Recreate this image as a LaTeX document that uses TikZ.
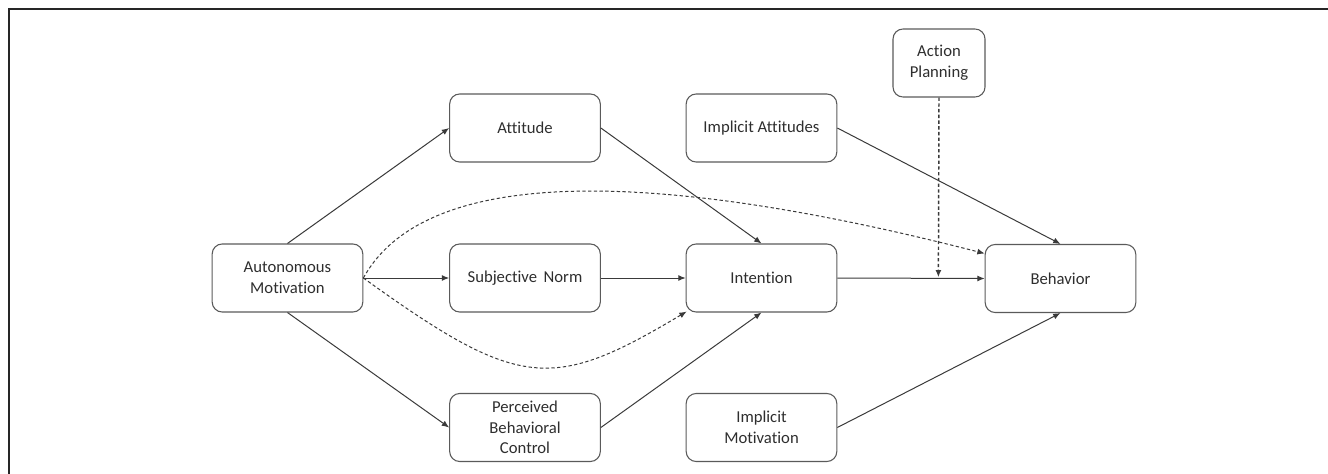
\documentclass[tikz,border=0pt]{standalone}
\usepackage{fontspec}
\setmainfont[Ligatures={NoCommon}]{Carlito}
\usetikzlibrary{arrows.meta,calc}
\definecolor{boxline}{HTML}{5A5A5A}
\definecolor{arrline}{HTML}{3A3A3A}
\definecolor{txt}{HTML}{2E2E2E}
\begin{document}
\begin{tikzpicture}[x=0.75pt,y=-0.75pt,
  box/.style={draw=boxline,line width=0.8pt,rounded corners=7.5pt,
    minimum width=113pt,minimum height=51pt,inner sep=0pt,align=center,
    text=txt,font=\fontsize{12.5}{15.5}\selectfont},
  smallbox/.style={box,minimum width=69pt},
  arr/.style={draw=arrline,line width=0.75pt,-{Latex[length=5.5pt,width=4.5pt]}},
  darr/.style={arr,dashed,dash pattern=on 2.5pt off 1.8pt}]
\useasboundingbox (0,0) rectangle (1328,474);
\draw[line width=1.2pt,color=black!85] (9,474) -- (9,9) -- (1328,9);

\node[box] (am) at (287.5,278) {Autonomous\\Motivation};
\node[box] (att) at (525,128) {Attitude};
\node[box] (sn) at (525,278) {Subjective \,Norm};
\node[box] (pbc) at (525,427.5) {Perceived\\Behavioral\\Control};
\node[box] (int) at (761.5,278) {Intention};
\node[box] (ia) at (761.5,128) {Implicit Attitudes};
\node[box] (im) at (761.5,427.5) {Implicit\\Motivation};
\node[box] (beh) at (1060.5,278.5) {Behavior};
\node[smallbox] (ap) at (939,63) {Action\\Planning};

\draw[arr] (am.north) -- (att.west);
\draw[arr] (am.east) -- (sn.west);
\draw[arr] (am.south) -- (pbc.west);
\draw[arr] (att.east) -- (int.north);
\draw[arr] (sn.east) -- (int.west);
\draw[arr] (pbc.east) -- (int.south);
\draw[arr] (ia.east) -- (beh.north);
\draw[arr] (im.east) -- (beh.south);
\draw[arr] (int.east) -- (beh.west);
\coordinate (mod) at ($(int.east)!(ap.south)!(beh.west)$);
\draw[darr,line width=1.1pt] (ap.south) -- ($(mod)+(0,-1)$);
\draw[darr] (am.east) .. controls (420,175) and (620,160) .. ($(beh.west)+(0,-25)$);
\draw[darr] (am.east) .. controls (519,390) and (552,392) .. ($(int.south west)+(1,-1)$);
\end{tikzpicture}
\end{document}
